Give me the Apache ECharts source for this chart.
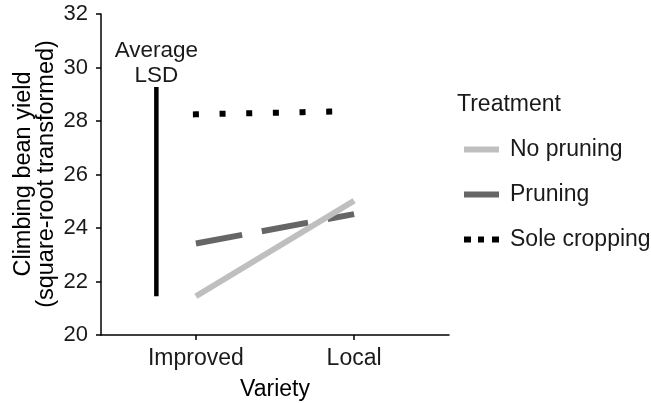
<!DOCTYPE html>
<html>
<head>
<meta charset="utf-8">
<script src="https://cdn.jsdelivr.net/npm/echarts@6/dist/echarts.min.js"></script>
<style>
html,body{margin:0;padding:0;background:#fff;}
#chart{width:651px;height:403px;}
</style>
</head>
<body>
<div id="chart"></div>
<script>
// Data
const varieties = ['Improved', 'Local'];
const treatments = ['No pruning', 'Pruning', 'Sole cropping'];
const noPruning = [21.45, 25.02];
const pruning = [23.42, 24.52];
const soleCropping = [28.25, 28.37];
const lsdPosition = 0.75;           // position of LSD bar on variety scale
const lsdRange = [29.27, 21.45];     // top, bottom of Average LSD bar
const yTicks = [20, 22, 24, 26, 28, 30, 32];

const FONT = 'Liberation Sans, Arial, sans-serif';
const TXT = '#1a1a1a';

function toPairs(vals) {
  return vals.map((v, i) => [i + 1, v]);
}

const chart = echarts.init(document.getElementById('chart'), null, {renderer: 'canvas'});

const option = {
  animation: false,
  backgroundColor: '#ffffff',
  textStyle: {fontFamily: FONT},
  grid: {left: 101, right: 202, top: 14, bottom: 68, containLabel: false, outerBoundsMode: 'none'},
  xAxis: {
    type: 'value',
    min: 0.4,
    max: 2.6,
    name: 'Variety',
    nameLocation: 'middle',
    nameGap: 43,
    nameTextStyle: {fontSize: 23, color: '#000', fontFamily: FONT},
    axisLine: {show: true, lineStyle: {color: '#000', width: 1.5}},
    axisTick: {show: true, length: 5, customValues: [1, 2], lineStyle: {color: '#000', width: 1.5}},
    axisLabel: {
      customValues: [1, 2],
      formatter: v => varieties[Math.round(v) - 1] || '',
      fontSize: 23, color: TXT, margin: 12, fontFamily: FONT
    },
    splitLine: {show: false}
  },
  yAxis: {
    type: 'value',
    min: yTicks[0],
    max: yTicks[yTicks.length - 1],
    interval: 2,
    axisLine: {show: true, lineStyle: {color: '#000', width: 1.5}},
    axisTick: {show: true, length: 5, lineStyle: {color: '#000', width: 1.5}},
    axisLabel: {fontSize: 22, color: TXT, margin: 13, fontFamily: FONT},
    splitLine: {show: false}
  },
  legend: {
    orient: 'vertical',
    left: 459,
    top: 133,
    itemWidth: 35,
    itemHeight: 6,
    itemGap: 22,
    textStyle: {fontSize: 23, color: TXT, fontFamily: FONT, lineHeight: 22, padding: [0, 0, 0, 6]},
    data: [
      {name: treatments[0], icon: 'path://M0,0H35V6H0Z', itemStyle: {color: '#bfbfbf'}},
      {name: treatments[1], icon: 'path://M0,0H35V6H0Z', itemStyle: {color: '#666666'}},
      {name: treatments[2], icon: 'path://M0,0h7v6h-7z M14,0h6v6h-6z M28,0h7v6h-7z', itemStyle: {color: '#000000'}}
    ]
  },
  graphic: [
    {
      type: 'text', left: 457, top: 93,
      style: {text: 'Treatment', font: '23px ' + FONT, fill: TXT}
    },
    {
      type: 'text', x: 35, y: 174, rotation: Math.PI / 2,
      style: {
        text: 'Climbing bean yield\n(square-root transformed)',
        font: '23.5px ' + FONT, fill: '#000',
        align: 'center', verticalAlign: 'middle', lineHeight: 23
      }
    }
  ],
  series: [
    {
      name: treatments[0], type: 'line', data: toPairs(noPruning),
      symbol: 'none', z: 3,
      lineStyle: {color: '#bfbfbf', width: 6, cap: 'butt'},
      itemStyle: {color: '#bfbfbf'}
    },
    {
      name: treatments[1], type: 'line', data: toPairs(pruning),
      symbol: 'none', z: 2,
      lineStyle: {color: '#666666', width: 6, type: [47, 20], cap: 'butt'},
      itemStyle: {color: '#666666'}
    },
    {
      name: treatments[2], type: 'line', data: toPairs(soleCropping),
      symbol: 'none', z: 2,
      lineStyle: {color: '#000000', width: 6, type: [0.001, 26.66], cap: 'square'},
      itemStyle: {color: '#000000'}
    },
    {
      name: 'Average LSD', type: 'line',
      data: [[lsdPosition, lsdRange[0]], [lsdPosition, lsdRange[1]]],
      symbol: 'none', z: 2,
      lineStyle: {color: '#000', width: 4.5, cap: 'butt'},
      label: {show: false},
      markPoint: {
        symbol: 'circle', symbolSize: 0,
        data: [{coord: [lsdPosition, lsdRange[0]]}],
        label: {
          show: true, position: 'top', distance: 4, offset: [0, 5],
          formatter: 'Average\nLSD', fontSize: 22.5, lineHeight: 25,
          color: TXT, fontFamily: FONT, align: 'center'
        }
      }
    }
  ]
};
chart.setOption(option);
</script>
</body>
</html>
